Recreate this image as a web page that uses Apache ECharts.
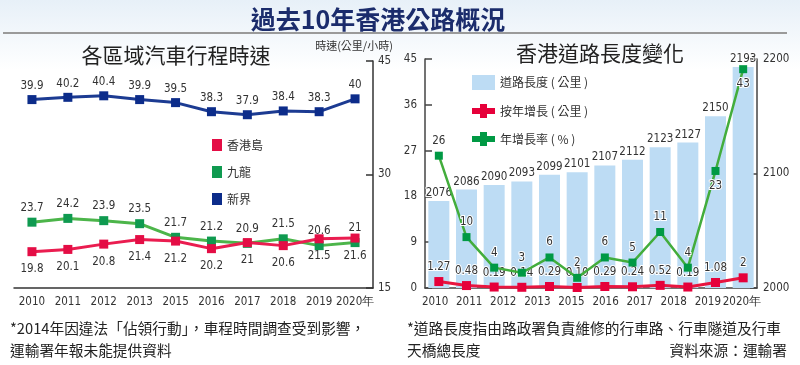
<!DOCTYPE html>
<html><head><meta charset="utf-8">
<script src="https://cdn.jsdelivr.net/npm/echarts@6/dist/echarts.min.js"></script>
<style>html,body{margin:0;padding:0;background:#fff}#c{width:800px;height:365px}</style>
</head><body><div id="c"></div>
<script>
// ---- Left chart: travel speed by region (km/h) ----
const speedYears = ['2010','2011','2012','2013','2015','2016','2017','2018','2019','2020年'];
const hkIsland = [19.8,20.1,20.8,21.4,21.2,20.2,21,20.6,21.5,21.6];
const kowloon = [23.7,24.2,23.9,23.5,21.7,21.2,20.9,21.5,20.6,21];
const newTerritories = [39.9,40.2,40.4,39.9,39.5,38.3,37.9,38.4,38.3,40];

// ---- Right chart: road length ----
const roadYearLabels = ['2010','2011','2012','2013','2015','2016','2017','2018','2019','2020年'];
const roadSlots = ['1','2','3','4','5','6','7','8','9','10','11','12'];
const roadLength = [2076,2086,2090,2093,2099,2101,2107,2112,2123,2127,2150,2193];
const yoyGrowthKm = [1.27,0.48,0.19,0.14,0.29,0.10,0.29,0.24,0.52,0.19,1.08,2];
const yoyGrowthKmText = ['1.27','0.48','0.19','0.14','0.29','0.10','0.29','0.24','0.52','0.19','1.08','2'];
const yoyGrowthRate = [26,10,4,3,6,2,6,5,11,4,23,43];
const rateLabelBelow = [false,false,false,false,false,false,false,false,false,false,true,true];

const NUM = "'Liberation Sans Narrow','DejaVu Sans Condensed','Roboto Condensed','Liberation Sans',Arial,sans-serif";
const CJK = "'Noto Sans CJK TC','Noto Sans CJK SC',sans-serif";
const FS = 11.5;

const chart = echarts.init(document.getElementById('c'), null, {renderer:'canvas'});

function txt(x, y, text, size, opts) {
  opts = opts || {};
  return {
    type: 'text', x: x, y: y, z: 10,
    style: {
      text: text,
      fontSize: size,
      fontFamily: opts.family || CJK,
      fontWeight: opts.weight || 'normal',
      fill: opts.color || '#222',
      align: opts.align || 'left', textAlign: opts.align || 'left',
      verticalAlign: 'middle', textVerticalAlign: 'middle'
    }
  };
}

const axisLineStyle = {color:'#333', width:1.5};
const plain = (v) => String(v);

const option = {
  backgroundColor: '#fff',
  animation: false,
  graphic: [
    {type:'rect', z:-10, shape:{x:0,y:0,width:800,height:70},
     style:{fill:new echarts.graphic.LinearGradient(0,0,0,1,[{offset:0,color:'#e7f0f8'},{offset:1,color:'#ffffff'}])}},
    {type:'line', z:5, shape:{x1:3,y1:33,x2:787,y2:33}, style:{stroke:'#9a9a9a', lineWidth:2}},
    txt(378, 19, '過去10年香港公路概況', 25, {weight:'bold', color:'#1b2c6c', align:'center'}),
    txt(176, 55, '各區域汽車行程時速', 21, {color:'#222', align:'center'}),
    txt(600, 53, '香港道路長度變化', 21, {color:'#222', align:'center'}),
    txt(354, 46, '時速(公里/小時)', 11, {color:'#333', align:'center'}),
    txt(10, 328, '*2014年因違法「佔領行動」，車程時間調查受到影響，', 14.7),
    txt(10, 350, '運輸署年報未能提供資料', 14.7),
    txt(407, 328, '*道路長度指由路政署負責維修的行車路、行車隧道及行車', 14.7),
    txt(407, 350, '天橋總長度', 14.7),
    txt(787, 350, '資料來源：運輸署', 14.7, {align:'right'})
  ],
  legend: [
    {
      orient:'vertical', left:207, top:134, itemWidth:10, itemHeight:12, itemGap:15,
      icon:'rect', selectedMode:false,
      textStyle:{fontSize:12, color:'#333', fontFamily:CJK},
      data:['香港島','九龍','新界']
    },
    {
      orient:'vertical', left:467, top:70, itemWidth:23, itemHeight:15, itemGap:14, selectedMode:false,
      textStyle:{fontSize:12, color:'#333', fontFamily:CJK},
      data:[
        {name:'道路長度 ( 公里 )', icon:'rect'},
        {name:'按年增長 ( 公里 )', icon:'path://M0,4H8V0H15V4H23V10H15V14H8V10H0Z'},
        {name:'年增長率 ( % )', icon:'path://M0,4H8V0H15V4H23V10H15V14H8V10H0Z'}
      ]
    }
  ],
  grid: [
    {left:14, right:427, top:61, bottom:77},
    {left:425, right:43, top:59, bottom:77},
    {left:418, right:41, top:59, bottom:77}
  ],
  xAxis: [
    {type:'category', gridIndex:0, data:speedYears, boundaryGap:true,
     axisLine:{lineStyle:axisLineStyle}, axisTick:{inside:true, length:4, interval:0, lineStyle:axisLineStyle},
     axisLabel:{interval:0, fontSize:FS, color:'#333', fontFamily:NUM, margin:8}},
    {type:'category', gridIndex:1, data:roadSlots, boundaryGap:true,
     axisLine:{lineStyle:{color:'#444', width:1.5}}, axisTick:{show:false}, axisLabel:{show:false}},
    {type:'category', gridIndex:2, data:roadYearLabels, boundaryGap:true,
     axisLine:{show:false}, axisTick:{show:false},
     axisLabel:{interval:0, fontSize:FS, color:'#333', fontFamily:NUM, margin:8}}
  ],
  yAxis: [
    {type:'value', gridIndex:0, position:'right', min:15, max:45, interval:15,
     axisLine:{show:true, lineStyle:axisLineStyle}, axisTick:{show:true, inside:true, length:7, lineStyle:axisLineStyle},
     splitLine:{show:false}, axisLabel:{fontSize:FS, color:'#333', fontFamily:NUM, margin:5, formatter:plain}},
    {type:'value', gridIndex:1, position:'left', min:0, max:45, interval:9,
     axisLine:{show:true, lineStyle:{color:'#444', width:1.5}}, axisTick:{show:true, inside:true, length:7, lineStyle:{color:'#444', width:1.5}},
     splitLine:{show:false}, axisLabel:{fontSize:FS, color:'#333', fontFamily:NUM, margin:8, formatter:plain}},
    {type:'value', gridIndex:1, position:'right', min:2000, max:2200, interval:100,
     axisLine:{show:true, lineStyle:{color:'#444', width:1.5}}, axisTick:{show:true, inside:true, length:7, lineStyle:{color:'#444', width:1.5}},
     splitLine:{show:false}, axisLabel:{fontSize:FS, color:'#333', fontFamily:NUM, margin:6, formatter:plain}},
    {type:'value', gridIndex:2, show:false}
  ],
  series: [
    {name:'香港島', type:'line', xAxisIndex:0, yAxisIndex:0, data:hkIsland,
     symbol:'rect', symbolSize:9, lineStyle:{color:'#ea1d50', width:3}, itemStyle:{color:'#e40d45'},
     label:{show:true, position:'bottom', distance:7, fontSize:FS, color:'#333', fontFamily:NUM}, z:4},
    {name:'九龍', type:'line', xAxisIndex:0, yAxisIndex:0, data:kowloon,
     symbol:'rect', symbolSize:9, lineStyle:{color:'#4cb54a', width:3}, itemStyle:{color:'#0f9a50'},
     label:{show:true, position:'top', distance:4, fontSize:FS, color:'#333', fontFamily:NUM}, z:3},
    {name:'新界', type:'line', xAxisIndex:0, yAxisIndex:0, data:newTerritories,
     symbol:'rect', symbolSize:9, lineStyle:{color:'#1c3b92', width:3}, itemStyle:{color:'#0c2c8a'},
     label:{show:true, position:'top', distance:3, fontSize:FS, color:'#333', fontFamily:NUM}, z:3},

    {name:'道路長度 ( 公里 )', type:'bar', xAxisIndex:1, yAxisIndex:2, data:roadLength, barWidth:21,
     itemStyle:{color:'#bddcf4'},
     label:{show:true, position:'top', distance:2, fontSize:FS, color:'#333', fontFamily:NUM,
            textBorderColor:'#fff', textBorderWidth:2}, z:1},
    {name:'年增長率 ( % )', type:'line', xAxisIndex:1, yAxisIndex:1,
     data: yoyGrowthRate.map((v,i)=>({value:v, label:{position: rateLabelBelow[i] ? 'bottom' : 'top'}})),
     symbol:'rect', symbolSize:8, lineStyle:{color:'#43ad3c', width:2.5}, itemStyle:{color:'#009944'},
     label:{show:true, position:'top', distance:5, fontSize:FS, color:'#333', fontFamily:NUM,
            textBorderColor:'#fff', textBorderWidth:2}, z:4},
    {name:'按年增長 ( 公里 )', type:'line', xAxisIndex:1, yAxisIndex:1, data:yoyGrowthKm,
     symbol:'rect', symbolSize:9, lineStyle:{color:'#e8153f', width:3}, itemStyle:{color:'#e6003a'},
     label:{show:true, position:'top', distance:4, fontSize:FS, color:'#333', fontFamily:NUM,
            textBorderColor:'#fff', textBorderWidth:2,
            formatter:(p)=>yoyGrowthKmText[p.dataIndex]}, z:3}
  ]
};
chart.setOption(option);
</script>
</body></html>
